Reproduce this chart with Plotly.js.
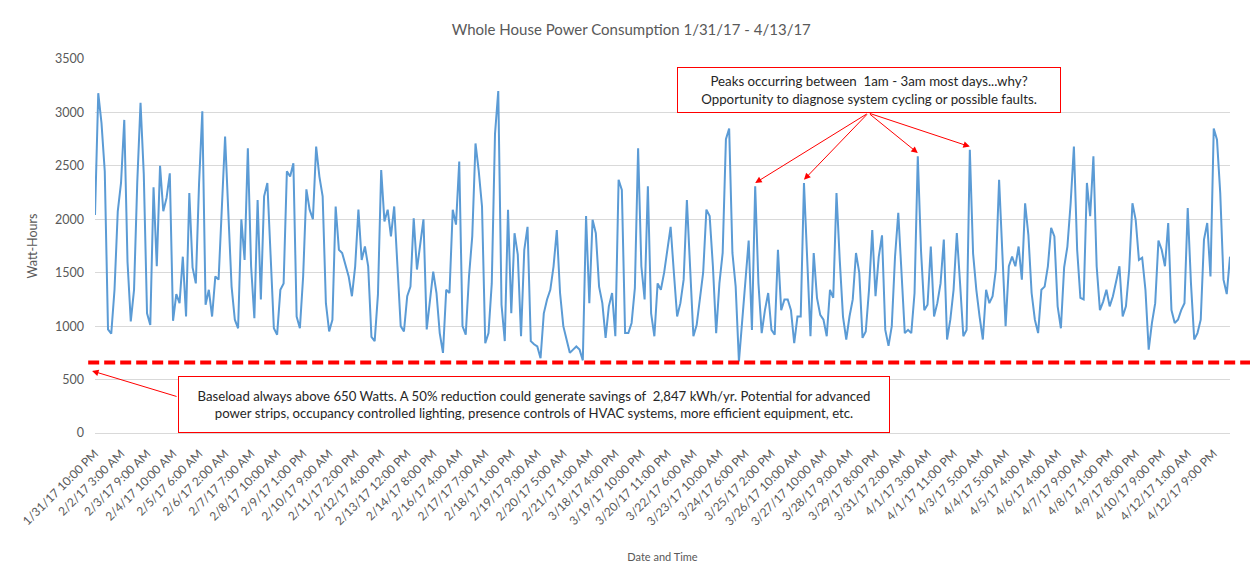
<!DOCTYPE html>
<html>
<head>
<meta charset="utf-8">
<script src="https://cdn.plot.ly/plotly-3.0.1.min.js"></script>
<style>
  html, body { margin: 0; padding: 0; background: #fff; }
  #chart { width: 1250px; height: 577px; }
</style>
</head>
<body>
<div id="chart"></div>
<script>
// watt-hours (one value every ~2.5 hourly readings)
const wattHours = [
  2040, 3180, 2900, 2450, 970, 930, 1340, 2075, 2340, 2930,
  1600, 1045, 1340, 2350, 3090, 2420, 1120, 1010, 2300, 1560,
  2500, 2075, 2200, 2430, 1050, 1300, 1215, 1650, 1090, 2245,
  1550, 1400, 2340, 3010, 1200, 1340, 1090, 1465, 1435, 2120,
  2775, 2060, 1370, 1060, 980, 2000, 1620, 2665, 1560, 1075,
  2180, 1250, 2215, 2340, 1715, 980, 920, 1340, 1400, 2450,
  2400, 2525, 1090, 980, 1465, 2280, 2090, 2000, 2680, 2400,
  2215, 1215, 950, 1060, 2120, 1715, 1685, 1560, 1465, 1280,
  1560, 2090, 1620, 1745, 1560, 900, 860, 1295, 2460, 1980,
  2090, 1840, 2120, 1560, 1000, 950, 1280, 1370, 2010, 1530,
  1780, 2000, 970, 1250, 1510, 1310, 935, 750, 1340, 1310,
  2090, 1950, 2540, 1000, 920, 1465, 1840, 2710, 2450, 2120,
  840, 935, 1400, 2800, 3200, 1200, 860, 2090, 1120, 1870,
  1670, 905, 1715, 1930, 860, 830, 810, 700, 1120, 1250,
  1340, 1560, 1900, 1310, 1000, 875, 750, 780, 810, 780,
  680, 2030, 1215, 1995, 1870, 1370, 1215, 890, 1185, 1310,
  905, 2370, 2275, 935, 935, 1030, 1355, 2665, 1560, 1250,
  2310, 1120, 905, 1400, 1340, 1500, 1715, 1930, 1500, 1090,
  1215, 1435, 2180, 1465, 905, 1010, 1265, 1500, 2090, 2030,
  1560, 935, 1400, 1685, 2750, 2850, 1685, 1370, 670, 1030,
  1465, 1800, 965, 2310, 1400, 935, 1150, 1310, 965, 920,
  1715, 1150, 1250, 1250, 1150, 840, 1090, 1090, 2340, 1560,
  905, 1685, 1265, 1105, 1060, 905, 1340, 1265, 2245, 1620,
  1090, 875, 1090, 1250, 1685, 1500, 890, 950, 1340, 1900,
  1280, 1650, 1850, 965, 815, 1000, 1650, 2060, 1465, 935,
  965, 935, 1310, 2590, 1700, 1150, 1200, 1745, 1090, 1215,
  1400, 1810, 875, 1060, 1340, 1870, 1400, 905, 965, 2650,
  1680, 1340, 1090, 875, 1340, 1215, 1280, 1530, 2370, 1650,
  1000, 1560, 1650, 1560, 1745, 1435, 2150, 1855, 1310, 1060,
  935, 1340, 1370, 1560, 1920, 1840, 1185, 980, 1550, 1745,
  2150, 2680, 1715, 1265, 1250, 2340, 2030, 2590, 1560, 1150,
  1230, 1340, 1185, 1280, 1435, 1560, 1090, 1185, 1530, 2150,
  1995, 1620, 1640, 1340, 780, 1030, 1215, 1800, 1715, 1560,
  1965, 1150, 1030, 1060, 1150, 1215, 2105, 1400, 875, 935,
  1060, 1810, 1965, 1465, 2850, 2745, 2245, 1435, 1300, 1650
];

const tickLabels = [
  "1/31/17 10:00 PM", "2/2/17 3:00 AM", "2/3/17 9:00 AM", "2/4/17 10:00 AM",
  "2/5/17 6:00 AM", "2/6/17 2:00 AM", "2/7/17 7:00 AM", "2/8/17 10:00 AM",
  "2/9/17 1:00 PM", "2/10/17 9:00 AM", "2/11/17 2:00 PM", "2/12/17 4:00 PM",
  "2/13/17 12:00 PM", "2/14/17 8:00 PM", "2/16/17 4:00 AM", "2/17/17 7:00 AM",
  "2/18/17 1:00 PM", "2/19/17 9:00 AM", "2/20/17 5:00 AM", "2/21/17 1:00 AM",
  "3/18/17 4:00 PM", "3/19/17 10:00 PM", "3/20/17 11:00 PM", "3/22/17 6:00 AM",
  "3/23/17 10:00 AM", "3/24/17 6:00 PM", "3/25/17 2:00 PM", "3/26/17 10:00 AM",
  "3/27/17 10:00 AM", "3/28/17 9:00 AM", "3/29/17 8:00 PM", "3/31/17 2:00 AM",
  "4/1/17 3:00 AM", "4/1/17 11:00 PM", "4/3/17 5:00 AM", "4/4/17 5:00 AM",
  "4/5/17 4:00 AM", "4/6/17 4:00 AM", "4/7/17 9:00 AM", "4/8/17 1:00 PM",
  "4/9/17 8:00 PM", "4/10/17 9:00 PM", "4/12/17 1:00 AM", "4/12/17 9:00 PM"
];
const tickStep = 8;          // samples between labelled categories
const baseload = 660;        // watts, dashed line
const peakIdx = [203, 218, 253, 269];   // the 1am-3am peaks that get arrows

const FONT = "Lato, 'Open Sans', sans-serif";
const GREY = "#595959";

const xIdx = wattHours.map((_, i) => i);

const trace = {
  x: xIdx,
  y: wattHours,
  mode: 'lines',
  line: { color: '#5b9bd5', width: 2 },
  hoverinfo: 'y',
  showlegend: false,
};

// arrows from the top note box to the highlighted peaks
const peakArrows = peakIdx.map(i => ({
  x: i, y: wattHours[i] + 30, xref: 'x', yref: 'y',
  ax: 237.8, ay: 2995, axref: 'x', ayref: 'y',
  text: '', showarrow: true,
  arrowhead: 2, arrowsize: 1.3, arrowwidth: 1, arrowcolor: '#ff0000',
}));

const layout = {
  width: 1250,
  height: 577,
  paper_bgcolor: '#fff',
  plot_bgcolor: '#fff',
  font: { family: FONT, color: GREY },
  margin: { t: 59, r: 20, b: 144, l: 95 },
  title: {
    text: 'Whole House Power Consumption 1/31/17 - 4/13/17',
    font: { size: 15, color: GREY, family: FONT },
    x: 0.505, xanchor: 'center', y: 0.948, yanchor: 'middle',
  },
  xaxis: {
    range: [0, wattHours.length - 1],
    tickmode: 'array',
    tickvals: tickLabels.map((_, k) => k * tickStep),
    ticktext: tickLabels,
    tickangle: -45,
    tickfont: { size: 12, color: GREY },
    ticklabelstandoff: 8,
    showgrid: false,
    zeroline: false,
    showline: true,
    linecolor: '#d9d9d9',
    ticks: '',
    title: { text: 'Date and Time', font: { size: 11, color: GREY }, standoff: 25 },
  },
  yaxis: {
    range: [0, 3500],
    dtick: 500,
    tickfont: { size: 12.5, color: GREY },
    ticklabelstandoff: 10,
    gridcolor: '#d9d9d9',
    zeroline: false,
    ticks: '',
    title: { text: 'Watt-Hours', font: { size: 12.5, color: GREY }, standoff: 14 },
  },
  shapes: [
    {
      type: 'line', xref: 'paper', yref: 'y',
      x0: -0.006, x1: 1.02, y0: baseload, y1: baseload,
      line: { color: '#ff0000', width: 4, dash: '11px,5px' },
    },
  ],
  annotations: [
    {
      xref: 'paper', yref: 'paper', x: 0.682, y: 0.916,
      xanchor: 'center', yanchor: 'middle',
      width: 378, height: 40,
      text: 'Peaks occurring between  1am - 3am most days...why?<br>Opportunity to diagnose system cycling or possible faults.',
      font: { size: 13.3, color: '#262626' },
      bgcolor: '#fff', bordercolor: '#ff0000', borderwidth: 1, borderpad: 2,
      showarrow: false,
    },
    ...peakArrows,
    {
      xref: 'paper', yref: 'paper', x: 0.3868, y: 0.075,
      xanchor: 'center', yanchor: 'middle',
      width: 706, height: 51,
      text: 'Baseload always above 650 Watts. A 50% reduction could generate savings of  2,847 kWh/yr. Potential for advanced<br>power strips, occupancy controlled lighting, presence controls of HVAC systems, more efficient equipment, etc.',
      font: { size: 13.2, color: '#262626' },
      bgcolor: '#fff', bordercolor: '#ff0000', borderwidth: 1, borderpad: 2,
      showarrow: false,
    },
    {
      xref: 'paper', yref: 'paper', x: -0.0026, y: 0.166,
      ax: 86, ay: 26, axref: 'pixel', ayref: 'pixel',
      text: '', showarrow: true,
      arrowhead: 2, arrowsize: 1.3, arrowwidth: 1, arrowcolor: '#ff0000',
    },
  ],
};

Plotly.newPlot('chart', [trace], layout, { displayModeBar: false, responsive: false });
</script>
</body>
</html>
